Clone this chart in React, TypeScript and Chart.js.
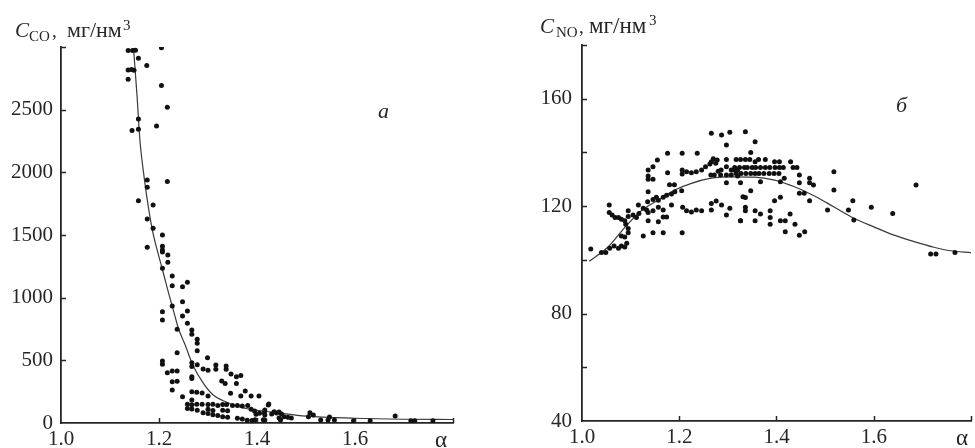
import React, { useEffect, useRef } from 'react';
import { Chart, registerables } from 'chart.js';
Chart.register(...registerables);

// ---------- data: panel "а" (CO) ----------
const coPoints: [number, number][] = [
  [1.137,2972],[1.146,2972],[1.152,2975],[1.205,2995],[1.158,2910],[1.175,2853],[1.137,2817],[1.144,2820],[1.149,2815],[1.137,2742],
  [1.205,2692],[1.217,2519],[1.158,2426],[1.195,2370],[1.145,2333],[1.158,2343],[1.176,1939],[1.217,1926],[1.176,1880],[1.158,1774],
  [1.188,1740],[1.176,1628],[1.188,1553],[1.207,1500],[1.176,1402],
  [1.207,1410],[1.207,1380],[1.207,1365],[1.218,1340],[1.218,1282],[1.207,1234],[1.227,1173],[1.227,1096],[1.248,1088],[1.258,1123],
  [1.248,968],[1.227,934],[1.258,894],[1.207,888],[1.207,822],[1.248,854],[1.258,795],[1.237,748],[1.267,742],[1.267,708],
  [1.278,668],[1.278,636],[1.278,577],[1.237,561],[1.299,521],[1.207,495],[1.207,468],[1.267,480],[1.267,450],[1.278,465],
  [1.316,463],[1.316,428],[1.337,455],[1.337,428],[1.29,430],[1.30,420],[1.217,400],[1.227,415],[1.237,415],[1.227,330],
  [1.237,333],[1.267,370],[1.267,355],[1.347,390],[1.358,370],[1.367,378],[1.328,335],[1.335,316],[1.227,263],[1.358,316],
  [1.248,210],[1.267,250],[1.277,245],[1.288,240],[1.30,215],[1.267,183],[1.346,237],[1.376,255],[1.367,215],[1.388,215],[1.404,215],
  [1.258,150],[1.267,145],[1.277,150],[1.288,150],[1.30,148],[1.31,150],[1.32,140],[1.33,148],[1.338,148],[1.35,140],
  [1.36,140],[1.37,135],[1.258,115],[1.267,112],[1.278,102],[1.30,110],[1.31,100],[1.33,102],[1.34,98],[1.381,140],
  [1.388,110],[1.395,95],[1.405,78],[1.415,82],[1.398,70],[1.423,143],[1.29,82],[1.30,75],[1.31,65],[1.32,60],
  [1.33,50],[1.34,45],[1.36,37],[1.37,32],[1.38,22],[1.39,20],[1.413,25],[1.396,25],[1.43,72],[1.44,80],[1.445,40],
  [1.424,152],[1.416,104],[1.416,64],[1.416,24],[1.435,90],[1.445,88],[1.45,72],[1.455,50],[1.463,45],[1.47,40],
  [1.448,24],[1.508,82],[1.515,64],[1.505,50],[1.53,24],[1.545,24],[1.548,48],[1.558,24],[1.597,18],[1.631,18],
  [1.682,56],[1.714,18],[1.722,18],[1.759,18],
];
const coCurve: [number, number][] = [
  [1.148,2990],[1.155,2620],[1.161,2260],[1.170,1950],[1.180,1680],[1.188,1510],[1.199,1340],[1.209,1195],[1.22,1030],
  [1.231,875],[1.24,750],[1.252,636],[1.27,455],[1.29,320],[1.31,225],[1.33,180],[1.365,128],[1.40,100],[1.435,85],
  [1.5,55],[1.6,38],[1.7,30],[1.8,28],
];
const coYTickValues = [0, 500, 1000, 1500, 2000, 2500, 3000];
const coYTickLabels = ['0', '500', '1000', '1500', '2000', '2500', ''];

// ---------- data: panel "б" (NO) ----------
const noPoints: [number, number][] = [
  [1.018,104.0],[1.040,102.7],[1.049,102.7],[1.057,104.3],[1.066,105.2],[1.075,104.3],[1.081,105.2],[1.088,104.8],[1.092,106.2],
  [1.081,108.9],[1.088,108.5],[1.095,110.1],[1.095,111.7],[1.090,113.3],
  [1.056,120.4],[1.056,117.6],[1.062,116.7],[1.068,115.8],[1.075,115.8],[1.081,115.1],[1.088,114.6],[1.095,116.1],[1.095,118.3],
  [1.105,116.7],[1.112,115.8],[1.117,117.3],[1.126,119.2],[1.133,118.6],[1.136,117.6],[1.146,118.3],[1.157,119.6],[1.167,118.6],
  [1.116,120.4],[1.135,121.6],[1.146,122.5],[1.153,123.3],[1.157,122.2],[1.167,123.3],[1.174,124.1],[1.184,124.5],[1.191,125.4],[1.205,125.7],
  [1.126,108.9],[1.146,110.1],[1.167,110.1],[1.206,110.1],[1.136,114.6],[1.157,114.2],[1.167,116.0],[1.174,116.0],[1.184,120.4],
  [1.155,137.2],[1.146,134.7],[1.136,133.5],[1.136,131.2],[1.146,130.0],[1.136,130.0],[1.136,125.4],
  [1.176,139.7],[1.206,139.7],[1.237,139.7],[1.176,132.4],[1.18,128],[1.19,128],
  [1.206,133.5],[1.206,132.0],[1.215,132.8],[1.225,132.4],[1.235,132.8],[1.246,133.5],[1.254,134.7],[1.263,135.7],[1.266,136.5],
  [1.270,137.6],[1.275,136.0],[1.278,137.2],[1.28,133.0],[1.286,133.5],[1.297,137.4],[1.297,134.7],[1.307,133.5],[1.313,133.5],[1.32,133.5],
  [1.265,131.6],[1.272,131.6],[1.285,131.6],[1.297,131.6],[1.307,131.6],[1.32,131.2],[1.297,128.7],
  [1.266,147.1],[1.287,146.5],[1.304,147.5],[1.297,142.8],
  [1.207,119.6],[1.215,118.3],[1.225,117.8],[1.235,118.6],[1.246,118.3],[1.266,118.6],[1.266,121.0],[1.276,121.9],[1.287,120.4],
  [1.297,116.7],[1.304,119.2],[1.326,114.6],[1.331,123.5],
  [1.336,147.7],[1.356,144.0],[1.347,140.0],
  [1.317,137.4],[1.326,137.4],[1.336,137.4],[1.345,137.4],[1.356,136.5],[1.363,137.4],[1.377,137.4],[1.396,136.5],[1.406,136.5],[1.429,136.5],
  [1.314,134.4],[1.324,134.4],[1.334,134.4],[1.340,134.4],[1.350,134.4],[1.357,134.4],[1.367,134.4],[1.377,134.4],[1.386,134.4],
  [1.397,134.4],[1.406,134.4],[1.414,134.4],[1.434,134.4],[1.442,134.4],
  [1.317,132.2],[1.327,132.2],[1.337,132.2],[1.347,132.2],[1.356,132.2],[1.364,132.2],[1.374,132.2],[1.385,132.2],[1.395,132.2],[1.405,132.2],
  [1.326,128.7],[1.367,129.1],[1.408,129.1],[1.416,130.4],[1.447,131.6],[1.447,128.7],[1.468,130.4],[1.468,128.7],[1.476,127.9],
  [1.518,132.8],[1.518,126.0],[1.447,124.8],[1.457,124.8],[1.468,122.0],[1.408,123.3],[1.396,122.0],[1.347,125.7],[1.336,123.2],
  [1.336,119.6],[1.336,118.3],[1.356,118.3],[1.367,117.1],[1.387,118.3],[1.387,115.8],[1.387,113.3],[1.326,114.6],[1.356,114.6],
  [1.408,114.6],[1.418,114.6],[1.428,117.1],[1.438,113.3],[1.418,110.5],[1.447,109.2],[1.458,110.5],
  [1.505,118.6],[1.548,118.6],[1.557,122.0],[1.559,114.8],[1.595,119.6],[1.639,117.3],[1.687,127.9],[1.717,102.2],[1.728,102.2],[1.767,102.7],
];
const noCurve: [number, number][] = [
  [1.015,99.5],[1.054,104.9],[1.088,112.1],[1.122,118.3],[1.157,122.3],[1.191,126],[1.225,128.5],[1.266,130.4],[1.307,130.9],
  [1.355,130.8],[1.396,129.7],[1.437,127.2],[1.478,123.8],[1.519,119.6],[1.559,115.5],[1.60,112.3],[1.642,109.2],[1.683,106.8],
  [1.724,104.7],[1.758,103.4],[1.80,102.7],
];
const noYTickValues = [40, 60, 80, 100, 120, 140, 160, 180];
const noYTickLabels = ['40', '', '80', '', '120', '', '160', ''];

// ---------- shared x axis ----------
const xTickValues = [1.0, 1.2, 1.4, 1.6, 1.8];
const xTickLabels = ['1.0', '1.2', '1.4', '1.6', ''];

const SERIF = "'Liberation Serif', 'Times New Roman', serif";
const INK = '#262626';

type TextPart = { text: string; x: number; y: number; size: number; italic?: boolean };

interface PanelSpec {
  points: [number, number][];
  curve: [number, number][];
  yMin: number;
  yMax: number;
  yTickValues: number[];
  yTickLabels: string[];
  yWidth: number;
  xHeight: number;
  padTop: number;
  padRight: number;
  yPad: number;
  texts: TextPart[];
}

const decorPlugin = {
  id: 'decor',
  afterDraw(chart: any, _args: any, opts: any) {
    const ctx = chart.ctx;
    const xs = chart.scales.x;
    const ys = chart.scales.y;
    const area = chart.chartArea;
    ctx.save();
    ctx.strokeStyle = INK;
    ctx.lineWidth = 1.5;
    ctx.beginPath();
    xTickValues.forEach((v) => {
      if (v === xs.min) return;
      const px = Math.round(xs.getPixelForValue(v)) + 0.5;
      ctx.moveTo(px, area.bottom);
      ctx.lineTo(px, area.bottom - 5);
    });
    (opts.yTicks as number[]).forEach((v) => {
      if (v === ys.min) return;
      const py = Math.round(ys.getPixelForValue(v)) + 0.5;
      ctx.moveTo(area.left, py);
      ctx.lineTo(area.left + 5, py);
    });
    ctx.stroke();
    ctx.fillStyle = INK;
    ctx.textBaseline = 'alphabetic';
    ctx.textAlign = 'left';
    (opts.texts as TextPart[]).forEach((t) => {
      ctx.font = `${t.italic ? 'italic ' : ''}${t.size}px ${SERIF}`;
      ctx.fillText(t.text, t.x, t.y);
    });
    ctx.restore();
  },
};

function Panel({ spec, width, left }: { spec: PanelSpec; width: number; left: number }) {
  const ref = useRef<HTMLCanvasElement>(null);
  useEffect(() => {
    if (!ref.current) return;
    const chart = new Chart(ref.current, {
      type: 'scatter',
      data: {
        datasets: [
          {
            type: 'line',
            data: spec.curve.map(([x, y]) => ({ x, y })),
            borderColor: '#3a3a3a',
            borderWidth: 1.2,
            pointRadius: 0,
            cubicInterpolationMode: 'monotone',
            fill: false,
            order: 2,
          } as any,
          {
            type: 'scatter',
            data: spec.points.map(([x, y]) => ({ x, y })),
            backgroundColor: '#111',
            borderColor: '#111',
            borderWidth: 0,
            pointRadius: 2.5,
            order: 1,
          },
        ],
      },
      options: {
        responsive: false,
        animation: false,
        devicePixelRatio: 1,
        layout: { padding: { left: 0, right: spec.padRight, top: spec.padTop, bottom: 0 } },
        plugins: {
          legend: { display: false },
          tooltip: { enabled: false },
          decor: { yTicks: spec.yTickValues, texts: spec.texts },
        } as any,
        scales: {
          x: {
            type: 'linear',
            min: 1.0,
            max: 1.8,
            afterBuildTicks: (s: any) => {
              s.ticks = xTickValues.map((v) => ({ value: v }));
            },
            afterFit: (s: any) => {
              s.height = spec.xHeight;
            },
            ticks: {
              autoSkip: false,
              maxRotation: 0,
              padding: 4,
              color: INK,
              font: { family: SERIF, size: 21 },
              callback: (_v: any, i: number) => xTickLabels[i],
            },
            grid: { display: false, drawTicks: false },
            border: { display: true, color: INK, width: 1.8 },
          },
          y: {
            type: 'linear',
            min: spec.yMin,
            max: spec.yMax,
            afterBuildTicks: (s: any) => {
              s.ticks = spec.yTickValues.map((v) => ({ value: v }));
            },
            afterFit: (s: any) => {
              s.width = spec.yWidth;
            },
            ticks: {
              autoSkip: false,
              padding: spec.yPad,
              color: INK,
              font: { family: SERIF, size: 21 },
              callback: (_v: any, i: number) => spec.yTickLabels[i],
            },
            grid: { display: false, drawTicks: false },
            border: { display: true, color: INK, width: 1.8 },
          },
        },
      },
      plugins: [decorPlugin],
    });
    return () => chart.destroy();
  }, []);
  return (
    <canvas
      ref={ref}
      width={width}
      height={448}
      style={{ position: 'absolute', left, top: 0, width, height: 448 }}
    />
  );
}

const leftSpec: PanelSpec = {
  points: coPoints,
  curve: coCurve,
  yMin: 0,
  yMax: 3000,
  yTickValues: coYTickValues,
  yTickLabels: coYTickLabels,
  yWidth: 61,
  xHeight: 25,
  padTop: 47,
  padRight: 34,
  yPad: 8,
  texts: [
    { text: 'C', x: 15, y: 37, size: 21, italic: true },
    { text: 'CO', x: 29, y: 41, size: 15 },
    { text: ',', x: 52, y: 37, size: 19 },
    { text: 'мг/нм', x: 67, y: 37, size: 22 },
    { text: '3', x: 123, y: 30, size: 15 },
    { text: 'а', x: 378, y: 118, size: 22, italic: true },
    { text: 'α', x: 435, y: 447, size: 23 },
  ],
};

const rightSpec: PanelSpec = {
  points: noPoints,
  curve: noCurve,
  yMin: 40,
  yMax: 180,
  yTickValues: noYTickValues,
  yTickLabels: noYTickLabels,
  yWidth: 95,
  xHeight: 27,
  padTop: 45,
  padRight: 3,
  yPad: 10,
  texts: [
    { text: 'C', x: 540 - 487, y: 33, size: 21, italic: true },
    { text: 'NO', x: 556 - 487, y: 37, size: 15 },
    { text: ',', x: 579 - 487, y: 33, size: 19 },
    { text: 'мг/нм', x: 589 - 487, y: 33, size: 23 },
    { text: '3', x: 649 - 487, y: 25, size: 15 },
    { text: 'б', x: 896 - 487, y: 112, size: 22, italic: true },
    { text: 'α', x: 956 - 487, y: 445, size: 23 },
  ],
};

export default function App() {
  return (
    <div style={{ position: 'absolute', left: 0, top: 0, width: 975, height: 448, background: '#fff', overflow: 'hidden' }}>
      <Panel spec={leftSpec} width={487} left={0} />
      <Panel spec={rightSpec} width={488} left={487} />
    </div>
  );
}
